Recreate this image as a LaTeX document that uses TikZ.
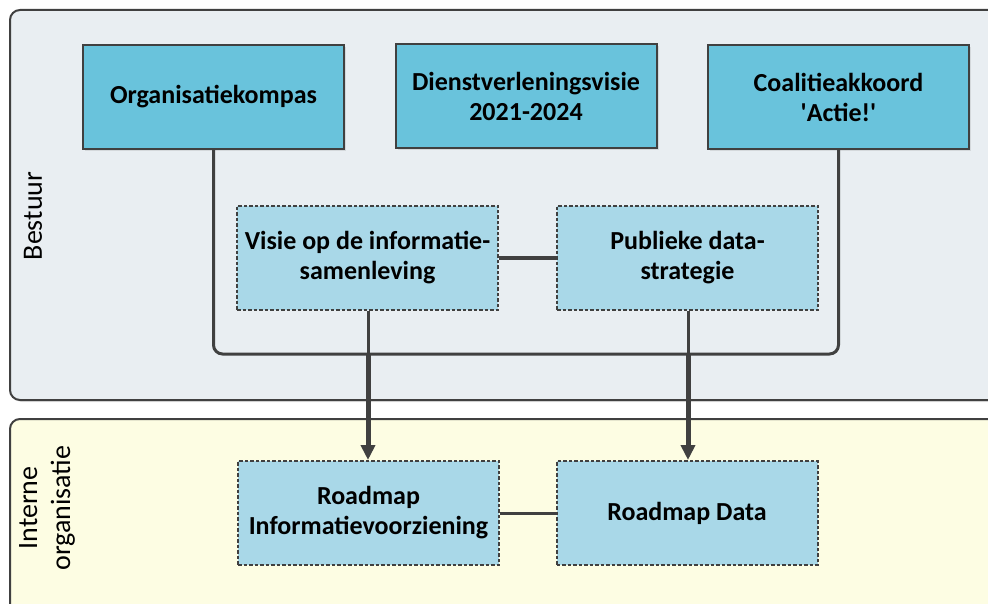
\documentclass[tikz,border=0pt]{standalone}
\usepackage{fontspec}
\setmainfont{Carlito}
\usetikzlibrary{arrows.meta,shadows}
\definecolor{lijn}{HTML}{404040}
\definecolor{bestuurbg}{HTML}{E9EEF2}
\definecolor{internbg}{HTML}{FDFDE3}
\definecolor{hoofd}{HTML}{69C3DC}
\definecolor{plan}{HTML}{A9D8E8}
\begin{document}
\begin{tikzpicture}[x=1pt, y=-1pt,
  laag/.style={draw=lijn, line width=2pt, rounded corners=10pt, drop shadow={opacity=0.2, shadow xshift=2pt, shadow yshift=-2pt}},
  hoofdbox/.style={draw=lijn, line width=2pt, fill=hoofd, minimum width=261pt, minimum height=104pt, align=center, font=\fontsize{26}{30}\selectfont\bfseries, drop shadow={opacity=0.2, shadow xshift=2pt, shadow yshift=-2pt}},
  planbox/.style={draw=lijn, line width=2pt, dash pattern=on 3.5pt off 2pt, fill=plan, minimum width=261pt, minimum height=104pt, align=center, font=\fontsize{26}{30}\selectfont\bfseries},
  lbl/.style={rotate=90, align=center, font=\fontsize{28}{33}\selectfont},
  verb/.style={draw=lijn, line width=3pt},
  pijl/.style={draw=lijn, line width=5pt, -{Triangle[length=15pt,width=14pt]}}]
\useasboundingbox (0,0) rectangle (988,604);
\fill[white] (0,0) rectangle (988,604);
% lagen
\filldraw[laag, fill=bestuurbg] (10,10) rectangle (1010,400);
\filldraw[laag, fill=internbg] (10,419) rectangle (1010,630);
\node[lbl] (bst) at (33,216) {Bestuur};
\node[lbl] (int) at (47,508) {Interne\\organisatie};
% bestuur
\node[hoofdbox] (okp) at (213.5,97) {Organisatiekompas};
\node[hoofdbox] (dvv) at (526,96) {Dienstverleningsvisie\\2021-2024};
\node[hoofdbox] (coa) at (838.5,97) {Coalitieakkoord\\\textquotesingle Actie!\textquotesingle};
\node[planbox] (vis) at (367.5,258) {Visie op de informatie-\\samenleving};
\node[planbox] (pds) at (687.5,258) {Publieke data-\\strategie};
% interne organisatie
\node[planbox] (rmi) at (368.5,513) {Roadmap\\Informatievoorziening};
\node[planbox] (rmd) at (687,513) {Roadmap Data};
\coordinate (jl) at (368,354);
\coordinate (jr) at (688,354);
\draw[verb, rounded corners=9pt] (okp.south) |- (jl) -- (jr) -| (coa.south);
\draw[verb] (vis) -- (pds);
\draw[verb] (rmi) -- (rmd);
\draw[verb] (vis.south -| jl) -- (jl);
\draw[verb] (pds.south -| jr) -- (jr);
\draw[pijl] (jl) -- (jl |- rmi.north);
\draw[pijl] (jr) -- (jr |- rmd.north);
\end{tikzpicture}
\end{document}
